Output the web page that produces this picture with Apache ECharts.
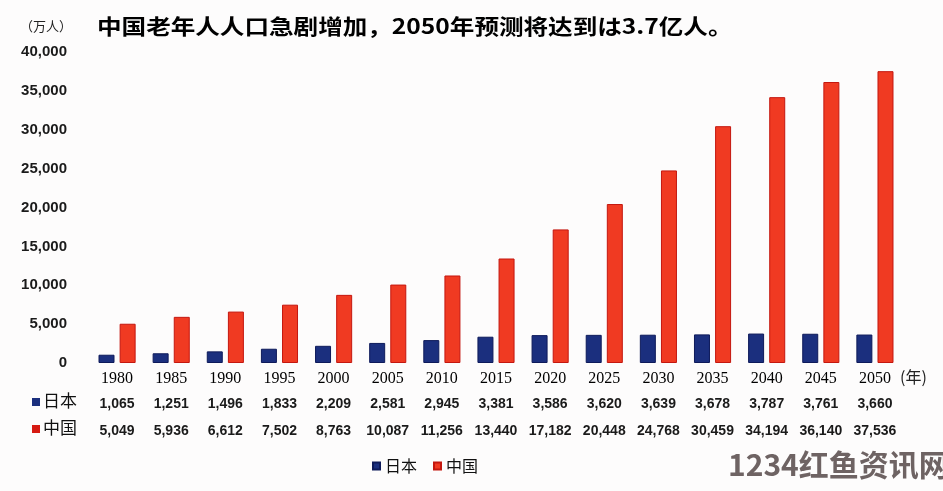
<!DOCTYPE html>
<html>
<head>
<meta charset="utf-8">
<script src="https://cdn.jsdelivr.net/npm/echarts@6/dist/echarts.min.js"></script>
<style>
html,body{margin:0;padding:0;background:#fdfcfc;}
#chart{width:943px;height:491px;}
</style>
</head>
<body>
<div id="chart"></div>
<script>
const years = ['1980','1985','1990','1995','2000','2005','2010','2015','2020','2025','2030','2035','2040','2045','2050'];
const japan = [1065,1251,1496,1833,2209,2581,2945,3381,3586,3620,3639,3678,3787,3761,3660];
const china = [5049,5936,6612,7502,8763,10087,11256,13440,17182,20448,24768,30459,34194,36140,37536];
const seriesNames = ['日本','中国'];
const titleText = '中国老年人人口急剧增加，2050年预测将达到は3.7亿人。';
const unitText = '（万人）';
const yearUnit = '(年)';
const watermark = '1234红鱼资讯网';

const fmt = v => Number(v).toLocaleString('en-US');
const JP = '#1b2f7e', CN = '#f03a22';
const cjk = '"Noto Sans CJK SC", "Noto Sans", sans-serif';

const chart = echarts.init(document.getElementById('chart'));
const rowAxis = (vals, offset) => ({
  type: 'category', data: years, position: 'bottom', offset: offset,
  axisLine: {show: false}, axisTick: {show: false},
  axisLabel: {margin: 8, fontSize: 14, fontWeight: 'bold', interval: 0, hideOverlap: false,
    color: '#1a1a1a', fontFamily: '"Liberation Sans", Arial, sans-serif',
    formatter: (v, i) => fmt(vals[i])}
});
chart.setOption({
  backgroundColor: '#fdfcfc',
  animation: false,
  grid: {left: 90, right: 41, top: 52, bottom: 128},
  legend: {
    data: seriesNames, left: 372, top: 458, icon: 'rect', itemWidth: 7, itemHeight: 7,
    itemGap: 16, padding: 0,
    textStyle: {fontSize: 16, color: '#111', fontFamily: cjk}
  },
  xAxis: [
    {type: 'category', data: years, position: 'bottom',
     axisLine: {show: false}, axisTick: {show: false},
     axisLabel: {margin: 8, fontSize: 16, interval: 0, color: '#000',
       fontFamily: '"Liberation Serif", "DejaVu Serif", serif'}},
    rowAxis(japan, 26),
    rowAxis(china, 53)
  ],
  yAxis: {
    type: 'value', min: 0, max: 40000, interval: 5000,
    axisLine: {show: false}, axisTick: {show: false}, splitLine: {show: false},
    axisLabel: {margin: 23, fontSize: 15, fontWeight: 'bold', color: '#1a1a1a',
      fontFamily: '"Liberation Sans", Arial, sans-serif', formatter: v => fmt(v)}
  },
  series: [
    {name: seriesNames[0], type: 'bar', data: japan, barWidth: 16, barGap: '32%',
     itemStyle: {color: JP, borderColor: '#0e1a5a', borderWidth: 1}},
    {name: seriesNames[1], type: 'bar', data: china, barWidth: 16,
     itemStyle: {color: CN, borderColor: '#c4170f', borderWidth: 1}}
  ],
  graphic: [
    {type: 'text', left: 97, top: 16, scaleX: 1.17,
     style: {text: titleText, fontSize: 21, fontWeight: 'bold', fill: '#000', fontFamily: cjk}},
    {type: 'text', left: 20, top: 20,
     style: {text: unitText, fontSize: 13, fill: '#222', fontFamily: cjk}},
    {type: 'text', left: 900, top: 369,
     style: {text: yearUnit, fontSize: 16, fill: '#222', fontFamily: cjk}},
    {type: 'rect', shape: {x: 32, y: 398, width: 8, height: 8}, style: {fill: JP}},
    {type: 'text', left: 43, top: 392, style: {text: seriesNames[0], fontSize: 17, fill: '#111', fontFamily: cjk}},
    {type: 'rect', shape: {x: 32, y: 425, width: 8, height: 8}, style: {fill: '#d61a12'}},
    {type: 'text', left: 43, top: 419, style: {text: seriesNames[1], fontSize: 17, fill: '#111', fontFamily: cjk}},
    {type: 'text', left: 728, top: 450,
     style: {text: watermark, fontSize: 30, fontWeight: 'bold', fill: '#6e6363', fontFamily: cjk}}
  ]
});
</script>
</body>
</html>
